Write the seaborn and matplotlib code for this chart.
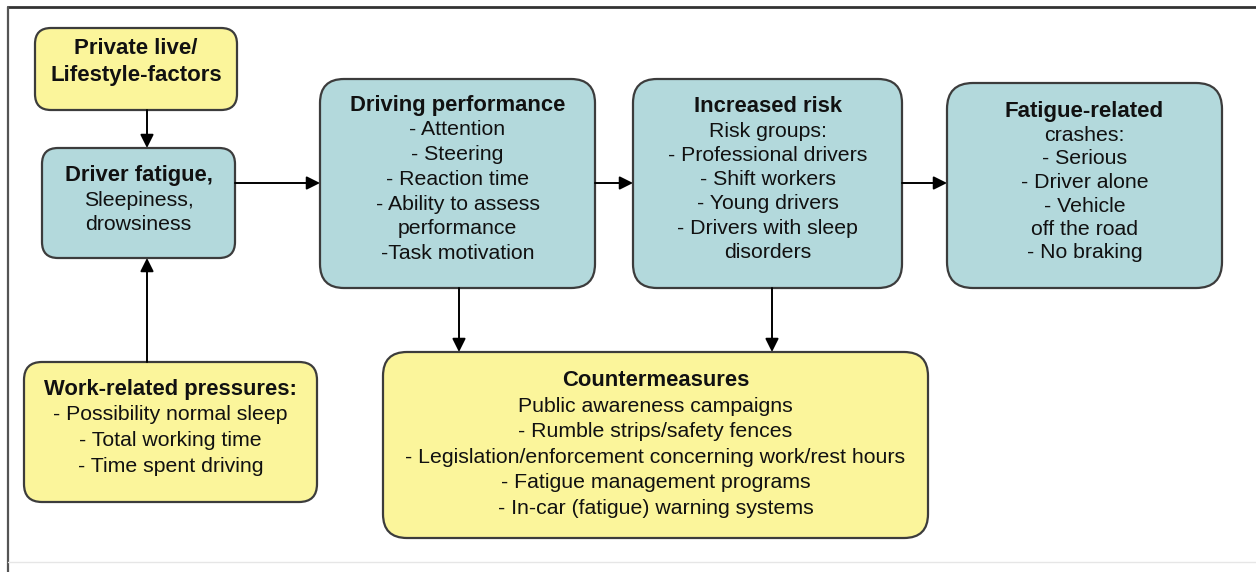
import matplotlib
matplotlib.use("Agg")
import matplotlib.pyplot as plt
from matplotlib.patches import FancyBboxPatch
import seaborn as sns

# box texts (first line is the bold heading)
private_lines = ["Private live/", "Lifestyle-factors"]
fatigue_lines = ["Driver fatigue,", "Sleepiness,", "drowsiness"]
work_lines = ["Work-related pressures:", "- Possibility normal sleep",
              "- Total working time", "- Time spent driving"]
performance_lines = ["Driving performance", "- Attention", "- Steering",
                     "- Reaction time", "- Ability to assess", "performance",
                     "-Task motivation"]
risk_lines = ["Increased risk", "Risk groups:", "- Professional drivers",
              "- Shift workers", "- Young drivers", "- Drivers with sleep",
              "disorders"]
crash_lines = ["Fatigue-related", "crashes:", "- Serious", "- Driver alone",
               "- Vehicle", "off the road", "- No braking"]
counter_lines = ["Countermeasures", "Public awareness campaigns",
                 "- Rumble strips/safety fences",
                 "- Legislation/enforcement concerning work/rest hours",
                 "- Fatigue management programs",
                 "- In-car (fatigue) warning systems"]

YELLOW = "#fbf59b"
BLUE = "#b3d9dc"
EDGE = "#3c3c3c"

sns.set_theme(style="white")
plt.rcParams["font.family"] = ["Liberation Sans", "DejaVu Sans"]

W, H = 1256, 572
fig = plt.figure(figsize=(W / 100, H / 100), dpi=100)
ax = fig.add_axes([0, 0, 1, 1])
ax.set_xlim(0, W)
ax.set_ylim(H, 0)
ax.axis("off")

# layout: (x0, y0, x1, y1, fill, corner, first text y, line step, heading size)
boxes = [
    (private_lines, (35, 28, 237, 110, YELLOW, 16, 48, 28, 16)),
    (fatigue_lines, (42, 148, 235, 258, BLUE, 16, 176, 24.5, 15.8)),
    (work_lines, (24, 362, 317, 502, YELLOW, 18, 389, 26, 15.8)),
    (performance_lines, (320, 79, 595, 288, BLUE, 24, 105, 24.8, 15.8)),
    (risk_lines, (633, 79, 902, 288, BLUE, 24, 107, 24.2, 15.8)),
    (crash_lines, (947, 83, 1222, 288, BLUE, 26, 112, 23.5, 16)),
    (counter_lines, (383, 352, 928, 538, YELLOW, 24, 381, 25.4, 15.8)),
]

for lines, (x0, y0, x1, y1, fill, rad, ty, step, hsize) in boxes:
    patch = FancyBboxPatch((x0, y0), x1 - x0, y1 - y0,
                           boxstyle=f"round,pad=0,rounding_size={rad}",
                           facecolor=fill, edgecolor=EDGE, linewidth=1.6)
    ax.add_patch(patch)
    cx = (x0 + x1) / 2
    for i, line in enumerate(lines):
        bold = i == 0 or lines is private_lines
        ax.text(cx, ty + i * step, line, ha="center", va="center",
                fontsize=hsize if bold else 15.3,
                fontweight="bold" if bold else "normal", color="#111111")

# arrows (start, end)
arrows = [
    ((147, 110), (147, 148)),
    ((147, 362), (147, 258)),
    ((235, 183), (320, 183)),
    ((595, 183), (633, 183)),
    ((902, 183), (947, 183)),
    ((459, 288), (459, 352)),
    ((772, 288), (772, 352)),
]
for start, end in arrows:
    ax.annotate("", xy=end, xytext=start,
                arrowprops=dict(arrowstyle="-|>", mutation_scale=20, lw=1.4,
                                color="black", shrinkA=0, shrinkB=0))

# frame of the figure panel
ax.plot([8, W], [7, 7], color="#333333", lw=2)
ax.plot([8, 8], [7, H], color="#555555", lw=1.6)
ax.plot([8, W], [562, 562], color="#e6e6e6", lw=1)

fig.savefig("out.png", dpi=100)
plt.close(fig)
